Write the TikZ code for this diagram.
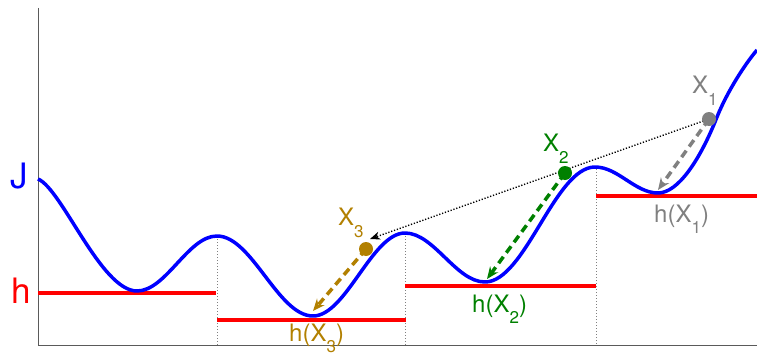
\documentclass[tikz,border=0pt]{standalone}
\usepackage{fontspec}
\setmainfont{TeX Gyre Heros}
\usetikzlibrary{arrows.meta}
\definecolor{jblue}{RGB}{0,0,255}
\definecolor{hred}{RGB}{255,0,0}
\definecolor{cone}{RGB}{128,128,128}
\definecolor{ctwo}{RGB}{0,128,0}
\definecolor{cthree}{RGB}{178,128,0}
\definecolor{axgray}{RGB}{90,90,90}
\newcommand{\sbs}[2]{\raisebox{-#1}{\fontsize{17}{17}\selectfont #2}}
\tikzset{
  axisline/.style={axgray, line width=0.9pt},
  seppline/.style={gray, line width=0.8pt, dash pattern=on 1pt off 2pt},
  levelline/.style={hred, line width=3.5pt},
  costcurve/.style={jblue, line width=3.5pt, line join=round},
  ptdot/.style={circle, fill=#1, inner sep=0pt, minimum size=14pt},
  descent/.style={#1, line width=3.5pt, dash pattern=on 8pt off 5pt,
    -{Stealth[length=12pt,width=10pt,inset=4pt]}},
  jumpline/.style={black, line width=1.4pt, dash pattern=on 1.2pt off 1.8pt,
    -{Stealth[length=10pt,width=8pt,inset=3pt]}},
  lbl/.style={font=\fontsize{24}{24}\selectfont, inner sep=0pt, anchor=base west, text=#1},
  biglbl/.style={font=\fontsize{35}{35}\selectfont, inner sep=0pt, anchor=base west, text=#1}
}
\begin{document}
\begin{tikzpicture}[x=1pt,y=-1pt]
\useasboundingbox (0,0) rectangle (757,353);
% axes
\coordinate (o) at (38,345);
\coordinate (ytop) at (38,8);
\coordinate (xend) at (757,345);
\draw[axisline] (ytop) -- (o) -- (xend);
% separators
\coordinate (s1t) at (217,236); \coordinate (s1b) at (217,345);
\coordinate (s2t) at (405,233); \coordinate (s2b) at (405,345);
\coordinate (s3t) at (596,166); \coordinate (s3b) at (596,345);
\draw[seppline] (s1t) -- (s1b);
\draw[seppline] (s2t) -- (s2b);
\draw[seppline] (s3t) -- (s3b);
% level lines h
\coordinate (ha) at (38,293);  \coordinate (hb) at (216,293);
\coordinate (hc) at (217,320); \coordinate (hd) at (406,320);
\coordinate (he) at (405,286); \coordinate (hf) at (596,286);
\coordinate (hg) at (596,196); \coordinate (hh) at (757,196);
\draw[levelline] (ha) -- (hb);
\draw[levelline] (hc) -- (hd);
\draw[levelline] (he) -- (hf);
\draw[levelline] (hg) -- (hh);
% cost curve J
\draw[costcurve] (38,179) .. controls (62,189) and (101,291) .. (137,291)
  .. controls (166,291) and (188,236) .. (217,236)
  .. controls (252,236) and (278,316) .. (313,316)
  .. controls (346,316) and (372,233) .. (405,233)
  .. controls (434,233) and (456,282) .. (485,282)
  .. controls (525,282) and (555,167) .. (595,167)
  .. controls (618,167) and (635,193) .. (658,193)
  .. controls (678,193) and (700,160) .. (717,117)
  .. controls (727,92) and (745,64) .. (757,50);
% points
\coordinate (x1c) at (709,119);
\coordinate (x2c) at (565,173);
\coordinate (x3c) at (366,249);
\coordinate (t1) at (658,190);
\coordinate (t2) at (487,279);
\coordinate (t3) at (313,311);
\coordinate (d3) at (370,239);
\draw[jumpline] (x1c) -- (d3);
\draw[descent=cone] (x1c) -- (t1);
\draw[descent=ctwo] (x2c) -- (t2);
\draw[descent=cthree] (x3c) -- (t3);
\node[ptdot=cone] (x1) at (x1c) {};
\node[ptdot=ctwo] (x2) at (x2c) {};
\node[ptdot=cthree] (x3) at (x3c) {};
% labels
\node[biglbl=jblue] (lj) at (10,188) {J};
\node[biglbl=hred] (lh) at (11,303) {h};
\node[lbl=cone] (lx1) at (692,93) {X\sbs{12pt}{1}};
\node[lbl=ctwo] (lx2) at (543,151) {X\sbs{12pt}{2}};
\node[lbl=cthree] (lx3) at (338,225) {X\sbs{12pt}{3}};
\node[lbl=cone] (lh1) at (654,222) {h(X\sbs{11pt}{1})};
\node[lbl=ctwo] (lh2) at (472,312) {h(X\sbs{11pt}{2})};
\node[lbl=cthree] (lh3) at (289,341) {h(X\sbs{11pt}{3})};
\end{tikzpicture}
\end{document}
